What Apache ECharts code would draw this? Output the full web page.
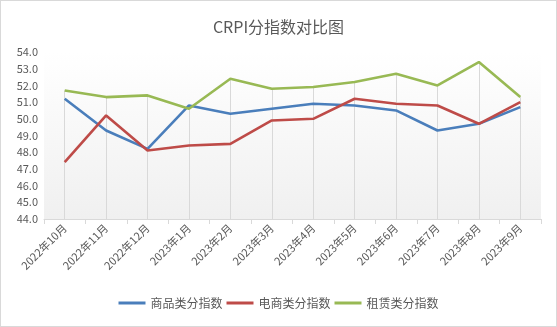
<!DOCTYPE html>
<html><head><meta charset="utf-8">
<script src="https://cdn.jsdelivr.net/npm/echarts@6/dist/echarts.min.js"></script>
<style>html,body{margin:0;padding:0;background:#fff}#c{width:555px;height:325px;border:1px solid #d9d9d9}</style>
</head><body><div id="c"></div>
<script>
const categories = ['2022年10月','2022年11月','2022年12月','2023年1月','2023年2月','2023年3月','2023年4月','2023年5月','2023年6月','2023年7月','2023年8月','2023年9月'];
const goodsIndex = [51.2, 49.3, 48.2, 50.8, 50.3, 50.6, 50.9, 50.8, 50.5, 49.3, 49.7, 50.7];
const ecomIndex  = [47.4, 50.2, 48.1, 48.4, 48.5, 49.9, 50.0, 51.2, 50.9, 50.8, 49.7, 51.0];
const rentIndex  = [51.7, 51.3, 51.4, 50.6, 52.4, 51.8, 51.9, 52.2, 52.7, 52.0, 53.4, 51.3];
const seriesNames = ['商品类分指数','电商类分指数','租赁类分指数'];
const yMin = 44, yMax = 54;

const font = 'Noto Sans CJK SC';
const chart = echarts.init(document.getElementById('c'));
const dropData = categories.map((c, i) => [
  {coord: [i, yMin]},
  {coord: [i, Math.max(goodsIndex[i], ecomIndex[i], rentIndex[i])]}
]);
const mk = (name, data, color, extra) => Object.assign({
  name, type: 'line', data, symbol: 'none', smooth: false,
  lineStyle: {color, width: 2.6}, itemStyle: {color}, z: 3
}, extra || {});
chart.setOption({
  animation: false,
  textStyle: {fontFamily: font},
  title: {text: 'CRPI分指数对比图', left: 'center', top: 13,
    textStyle: {fontSize: 16, fontWeight: 'normal', color: '#595959', fontFamily: font}},
  grid: {left: 43, right: 15, top: 51, bottom: 107, show: true, borderWidth: 0,
    backgroundColor: {type: 'linear', x: 0, y: 0, x2: 0, y2: 1,
      colorStops: [{offset: 0, color: '#ffffff'}, {offset: 1, color: '#f0f0f0'}]}},
  legend: {bottom: 12, left: 'center', icon: 'rect', itemWidth: 27, itemHeight: 3, itemGap: 4,
    textStyle: {fontSize: 12, color: '#595959', fontFamily: font}},
  xAxis: {type: 'category', data: categories, boundaryGap: true,
    axisLine: {lineStyle: {color: '#d9d9d9'}},
    axisTick: {show: true, length: 5, lineStyle: {color: '#d9d9d9'}},
    axisLabel: {rotate: 45, fontSize: 11, color: '#595959', margin: 7, interval: 0, fontFamily: font},
    splitLine: {show: false}},
  yAxis: {type: 'value', min: yMin, max: yMax, interval: 1,
    axisLine: {show: false}, axisTick: {show: false}, splitLine: {show: false},
    axisLabel: {formatter: v => v.toFixed(1), fontSize: 11, color: '#595959', margin: 6, fontFamily: font}},
  series: [
    mk(seriesNames[0], goodsIndex, '#4a7ebb', {
      markLine: {silent: true, symbol: 'none', label: {show: false},
        lineStyle: {color: '#d9d9d9', width: 1, type: 'solid'}, data: dropData, z: 1, animation: false}
    }),
    mk(seriesNames[1], ecomIndex, '#be4b48'),
    mk(seriesNames[2], rentIndex, '#98b954')
  ]
});
</script></body></html>
